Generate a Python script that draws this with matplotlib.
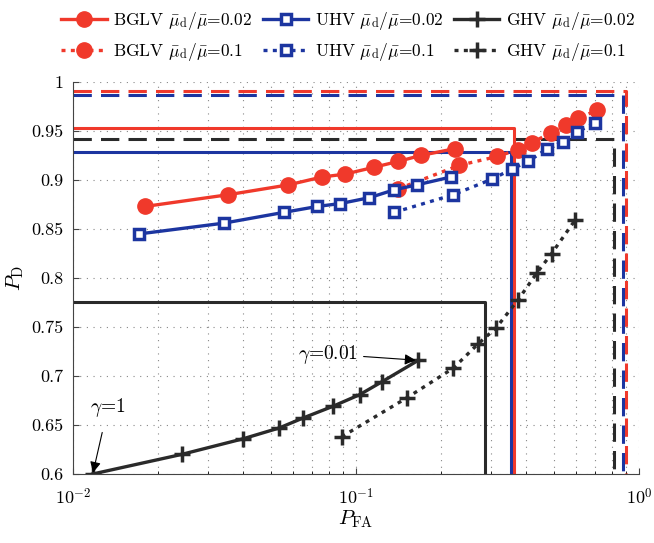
import matplotlib
matplotlib.use("Agg")
import matplotlib.pyplot as plt
from matplotlib.ticker import FixedLocator, FuncFormatter, LogLocator, NullFormatter

plt.rcParams['font.family'] = 'cmr10'
plt.rcParams['mathtext.fontset'] = 'cm'
plt.rcParams['axes.formatter.use_mathtext'] = True

RED = '#f0392b'
BLUE = '#1c35a0'
BLACK = '#2a2a2a'

# ROC points (P_FA, P_D)
bglv_002_pfa = [0.01797, 0.03538, 0.05765, 0.07564, 0.09143, 0.1158, 0.1411, 0.1693, 0.2238]
bglv_002_pd = [0.873, 0.885, 0.895, 0.903, 0.906, 0.913, 0.919, 0.925, 0.932]
bglv_01_pfa = [0.1411, 0.2317, 0.3157, 0.3727, 0.4175, 0.4875, 0.5508, 0.6103, 0.7087]
bglv_01_pd = [0.891, 0.915, 0.924, 0.931, 0.938, 0.948, 0.956, 0.963, 0.971]

uhv_002_pfa = [0.01715, 0.03417, 0.05567, 0.07299, 0.08815, 0.1116, 0.1365, 0.1639, 0.2161]
uhv_002_pd = [0.845, 0.856, 0.867, 0.873, 0.876, 0.882, 0.890, 0.895, 0.903]
uhv_01_pfa = [0.1365, 0.2207, 0.3031, 0.3549, 0.4063, 0.4742, 0.5401, 0.6025, 0.6990]
uhv_01_pd = [0.867, 0.885, 0.901, 0.911, 0.919, 0.932, 0.939, 0.949, 0.958]

ghv_002_pfa = [0.01174, 0.02421, 0.03998, 0.05358, 0.06482, 0.08275, 0.1031, 0.1233, 0.1660]
ghv_002_pd = [0.600, 0.620, 0.636, 0.647, 0.657, 0.669, 0.681, 0.694, 0.716]
ghv_01_pfa = [0.0890, 0.1518, 0.2207, 0.2705, 0.3124, 0.3746, 0.4350, 0.4914, 0.5942]
ghv_01_pd = [0.638, 0.678, 0.708, 0.733, 0.749, 0.778, 0.805, 0.825, 0.859]

# operating corners (P_FA, P_D) of the unmarked step lines
corner_pfa = {'bglv002': 0.3631, 'uhv002': 0.3530, 'ghv002': 0.2862,
              'bglv01': 0.897, 'uhv01': 0.880, 'ghv01': 0.814}
corner_pd = {'bglv002': 0.953, 'uhv002': 0.9286, 'ghv002': 0.775,
             'bglv01': 0.991, 'uhv01': 0.987, 'ghv01': 0.9415}

fig = plt.figure(figsize=(6.54, 5.43), dpi=100)
ax = fig.add_axes([73/654, 1-474/543, (639-73)/654, (474-82)/543])

xmin, ymin = 0.01, 0.6
dash = (6, 3)
dot = (1.2, 1.6)

# step lines (no markers)
for key, col, ls in [('bglv01', RED, 'dash'), ('uhv01', BLUE, 'dash'), ('ghv01', BLACK, 'dash'),
                     ('bglv002', RED, 'solid'), ('uhv002', BLUE, 'solid'), ('ghv002', BLACK, 'solid')]:
    xs = [xmin, corner_pfa[key], corner_pfa[key]]
    ys = [corner_pd[key], corner_pd[key], ymin]
    ln, = ax.plot(xs, ys, color=col, lw=2.2)
    if ls == 'dash':
        ln.set_dashes(dash)

lw = 2.4
h = {}
h['b2'], = ax.plot(bglv_002_pfa, bglv_002_pd, '-', color=RED, lw=lw, marker='o', ms=11,
                   mfc=RED, mec=RED)
h['b1'], = ax.plot(bglv_01_pfa, bglv_01_pd, color=RED, lw=lw, marker='o', ms=11,
                   mfc=RED, mec=RED, dashes=dot)
h['u2'], = ax.plot(uhv_002_pfa, uhv_002_pd, '-', color=BLUE, lw=lw, marker='s', ms=7,
                   mfc='white', mec=BLUE, mew=2.5)
h['u1'], = ax.plot(uhv_01_pfa, uhv_01_pd, color=BLUE, lw=lw, marker='s', ms=7,
                   mfc='white', mec=BLUE, mew=2.5, dashes=dot)
h['g2'], = ax.plot(ghv_002_pfa, ghv_002_pd, '-', color=BLACK, lw=lw, marker='+', ms=12,
                   mew=2.5)
h['g1'], = ax.plot(ghv_01_pfa, ghv_01_pd, color=BLACK, lw=lw, marker='+', ms=12,
                   mew=2.5, dashes=dot)

ax.set_xscale('log')
ax.set_xlim(0.01, 1)
ax.set_ylim(0.6, 1.0)
ax.xaxis.set_major_locator(FixedLocator([0.01, 0.1, 1]))
ax.xaxis.set_minor_locator(LogLocator(base=10, subs=range(2, 10)))
ax.xaxis.set_minor_formatter(NullFormatter())
ax.xaxis.set_major_formatter(FuncFormatter(
    lambda v, p: {0.01: r'$10^{-2}$', 0.1: r'$10^{-1}$', 1: r'$10^{0}$'}.get(round(v, 2), '')))
yt = [0.6, 0.65, 0.7, 0.75, 0.8, 0.85, 0.9, 0.95, 1.0]
ax.set_yticks(yt)
ax.set_yticklabels(['%g' % v for v in yt])
ax.tick_params(direction='in', labelsize=13, length=4, width=0.8, color='#444444')
ax.tick_params(axis='x', pad=9)
ax.tick_params(axis='y', pad=7)
ax.tick_params(which='minor', direction='in', length=2.5, width=0.6)
ax.spines['top'].set_visible(False)
ax.spines['right'].set_visible(False)
for s in ['left', 'bottom']:
    ax.spines[s].set_color('#444444')
ax.grid(True, which='major', axis='both', linestyle=(0, (1, 5)), color='#888888', lw=0.8)
ax.grid(True, which='minor', axis='x', linestyle=(0, (1, 5)), color='#888888', lw=0.8)
ax.set_axisbelow(True)

ax.set_xlabel(r'$P_{\mathrm{FA}}$', fontsize=15, labelpad=1)
ax.set_ylabel(r'$P_{\mathrm{D}}$', fontsize=15, labelpad=4)

ax.annotate(r'$\gamma$=1', xy=(0.01174, 0.600), xytext=(0.01329, 0.668),
            ha='center', va='center', fontsize=14,
            arrowprops=dict(arrowstyle='-|>', color='k', lw=0.8, mutation_scale=16,
                            shrinkA=8, shrinkB=1))
ax.annotate(r'$\gamma$=0.01', xy=(0.1660, 0.716), xytext=(0.0796, 0.7224),
            ha='center', va='center', fontsize=14,
            arrowprops=dict(arrowstyle='-|>', color='k', lw=0.8, mutation_scale=16,
                            shrinkA=2, shrinkB=2))

lab = r'$\bar{\mu}_{\mathrm{d}}/\bar{\mu}$='
handles = [h['b2'], h['b1'], h['u2'], h['u1'], h['g2'], h['g1']]
labels = ['BGLV ' + lab + '0.02', 'BGLV ' + lab + '0.1',
          'UHV ' + lab + '0.02', 'UHV ' + lab + '0.1',
          'GHV ' + lab + '0.02', 'GHV ' + lab + '0.1']
fig.legend(handles, labels, ncol=3, loc='upper left', bbox_to_anchor=(0.07, 1.01),
           frameon=False, fontsize=12.5, handlelength=2.6, numpoints=1,
           columnspacing=0.6, handletextpad=0.4, labelspacing=0.5)

fig.savefig('out.png', dpi=100)
